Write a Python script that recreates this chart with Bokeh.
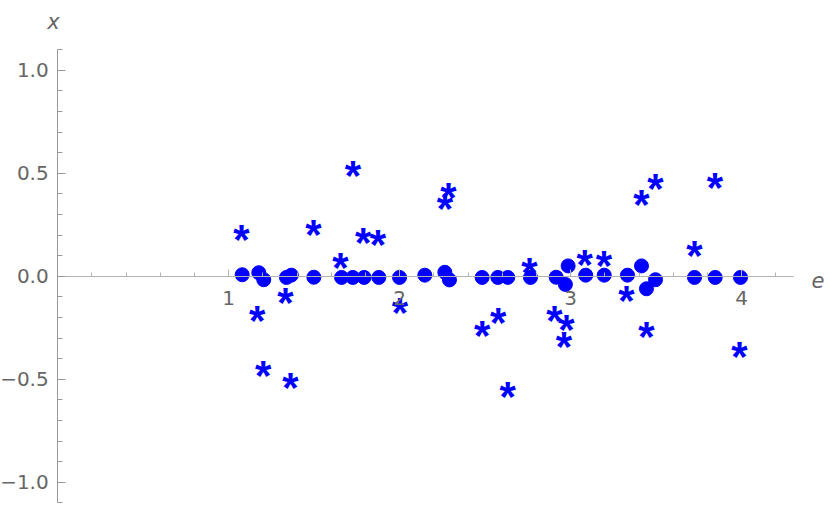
from bokeh.plotting import figure
from bokeh.models import LinearAxis, FixedTicker, Label, ColumnDataSource, CustomJSTickFormatter
from bokeh.core.properties import value
from bokeh.embed import file_html
from bokeh.resources import INLINE

# ---- data ----
circle_e = [1.079, 1.176, 1.205, 1.338, 1.366, 1.498, 1.660, 1.726, 1.792, 1.878,
            1.999, 2.147, 2.264, 2.291, 2.482, 2.574, 2.632, 2.765, 2.915, 2.969,
            2.985, 3.088, 3.196, 3.332, 3.414, 3.443, 3.496, 3.724, 3.845, 3.993]
circle_x = [0.007, 0.017, -0.017, -0.006, 0.005, -0.005, -0.006, -0.006, -0.006, -0.006,
            -0.006, 0.005, 0.019, -0.018, -0.006, -0.006, -0.006, -0.006, -0.005, -0.040,
            0.050, 0.005, 0.005, 0.005, 0.050, -0.061, -0.017, -0.006, -0.006, -0.006]

star_e = [1.075, 1.167, 1.202, 1.332, 1.361, 1.496, 1.654, 1.726, 1.787, 1.872,
          2.001, 2.265, 2.285, 2.482, 2.576, 2.632, 2.759, 2.905, 2.975, 2.960,
          3.081, 3.194, 3.326, 3.413, 3.496, 3.443, 3.724, 3.843, 3.987]
star_x = [0.202, -0.191, -0.458, -0.102, -0.515, 0.227, 0.068, 0.513, 0.189, 0.177,
          -0.150, 0.351, 0.405, -0.264, -0.199, -0.558, 0.041, -0.191, -0.234, -0.317,
          0.080, 0.076, -0.094, 0.371, 0.449, -0.268, 0.125, 0.453, -0.366]

x_major_ticks = [1, 2, 3, 4]
x_minor_ticks = [0.2, 0.4, 0.6, 0.8, 1.2, 1.4, 1.6, 1.8, 2.2, 2.4, 2.6, 2.8,
                 3.2, 3.4, 3.6, 3.8, 4.2]
y_major_ticks = [-1.0, -0.5, 0.0, 0.5, 1.0]
y_minor_ticks = [-1.1, -0.9, -0.8, -0.7, -0.6, -0.4, -0.3, -0.2, -0.1,
                 0.1, 0.2, 0.3, 0.4, 0.6, 0.7, 0.8, 0.9, 1.1]

x_axis_label = "e"
y_axis_label = "x"

# ---- figure ----
PX_X = 171.0   # pixels per unit (horizontal)
PX_Y = 206.0   # pixels per unit (vertical)
W, H = 830, 508
X0_PX = 57.2   # pixel of e=0
Y0_PX = 275.7  # pixel of x=0 (from top)

x_start = -X0_PX / PX_X
x_end = (W - X0_PX) / PX_X
y_end = Y0_PX / PX_Y
y_start = -(H - Y0_PX) / PX_Y

p = figure(width=W, height=H, x_range=(x_start, x_end), y_range=(y_start, y_end),
           x_axis_location=None, y_axis_location=None,
           toolbar_location=None, output_backend="svg", min_border=0,
           outline_line_color=None, background_fill_color="white",
           border_fill_color="white")
p.grid.grid_line_color = None

tick_font = "DejaVu Sans"
label_color = "#666666"

xaxis = LinearAxis(fixed_location=0, bounds=(0, 4.30),
                   ticker=FixedTicker(ticks=x_major_ticks, minor_ticks=x_minor_ticks),
                   formatter=CustomJSTickFormatter(code="return tick.toFixed(0);"),
                   axis_line_color="#b3b3b3", axis_line_width=1,
                   major_tick_line_color="#b3b3b3", major_tick_in=7, major_tick_out=0,
                   minor_tick_line_color="#b3b3b3", minor_tick_in=4, minor_tick_out=0,
                   major_label_standoff=15,
                   major_label_text_font=tick_font, major_label_text_font_size="20px",
                   major_label_text_color=label_color)
p.add_layout(xaxis, "below")

yaxis = LinearAxis(fixed_location=0, bounds=(-1.1005, 1.1005),
                   ticker=FixedTicker(ticks=y_major_ticks, minor_ticks=y_minor_ticks),
                   formatter=CustomJSTickFormatter(
                       code="return tick.toFixed(1).replace('-', '\u2212');"),
                   axis_line_color="#999999", axis_line_width=1,
                   major_tick_line_color="#999999", major_tick_in=8, major_tick_out=0,
                   minor_tick_line_color="#999999", minor_tick_in=5, minor_tick_out=0,
                   major_label_standoff=9,
                   major_label_text_font=tick_font, major_label_text_font_size="20px",
                   major_label_text_color=label_color)
p.add_layout(yaxis, "left")

circles = ColumnDataSource(dict(e=circle_e, x=circle_x))
stars = ColumnDataSource(dict(e=star_e, x=star_x))

p.scatter(x="e", y="x", source=circles, marker="circle", size=14,
          fill_color="#0000ff", line_color="#0000ff")
p.text(x="e", y="x", source=stars, text=value("*"),
       text_font=value("Liberation Sans"), text_font_style="bold",
       text_font_size="42px", text_color="#0000ff",
       text_align="center", text_baseline="middle", y_offset=5)

p.add_layout(Label(x=-0.0246, y=1.2364, text=y_axis_label, text_font=tick_font,
                   text_font_style="italic", text_font_size="21px",
                   text_color=label_color, text_align="center",
                   text_baseline="middle"))
p.add_layout(Label(x=4.446, y=-0.020, text=x_axis_label, text_font=tick_font,
                   text_font_style="italic", text_font_size="21px",
                   text_color=label_color, text_align="center",
                   text_baseline="middle"))

open("out.html", "w").write(file_html(p, INLINE))
